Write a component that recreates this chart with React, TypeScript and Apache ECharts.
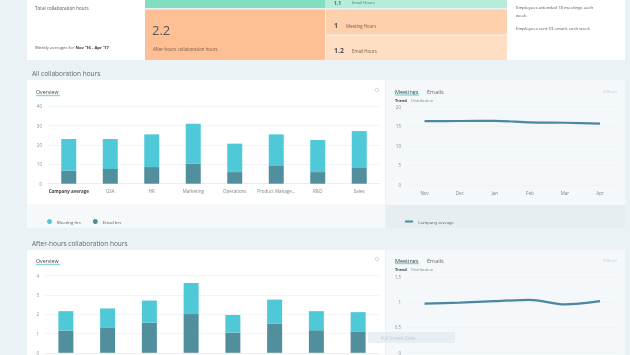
import React, { useEffect, useRef } from "react";
import * as echarts from "echarts";

const departments = ["Company average", "GSA", "HR", "Marketing", "Operations", "Product Manage...", "R&D", "Sales"];
const allMeetingHrs = [16.4, 15.5, 16.9, 20.7, 14.7, 16.0, 16.6, 19.1];
const allEmailHrs = [6.7, 7.6, 8.6, 10.3, 6.0, 9.5, 6.0, 8.1];
const afterMeetingHrs = [1.01, 1.01, 1.15, 1.61, 0.91, 1.25, 0.99, 1.0];
const afterEmailHrs = [1.15, 1.29, 1.56, 2.01, 1.05, 1.51, 1.17, 1.11];
const months = ["Nov", "Dec", "Jan", "Feb", "Mar", "Apr"];
const allMeetingTrend = [16.3, 16.35, 16.4, 16.0, 15.9, 15.7];
const afterMeetingTrend = [0.97, 0.99, 1.02, 1.046, 0.955, 1.02];

const FONT = "Open Sans";
const LIGHT = "#4fc8d7";
const DARK = "#528f9c";
const LINE = "#4b87a0";

function txt(x: number, y: number, text: string, size: number, fill: string, extra: any = {}) {
  return {
    type: "text",
    x,
    y,
    silent: true,
    z: 10,
    style: { text, fontSize: size, fontFamily: FONT, fill, verticalAlign: "middle", ...extra },
  };
}
function rect(x: number, y: number, w: number, h: number, fill: string, z = -10) {
  return { type: "rect", shape: { x, y, width: w, height: h }, style: { fill }, silent: true, z };
}

export default function App() {
  const ref = useRef<HTMLDivElement>(null);
  useEffect(() => {
    if (!ref.current) return;
    const chart = echarts.init(ref.current, undefined, { renderer: "svg" });

    const catData = departments.map((d, i) =>
      i === 0 ? { value: d, textStyle: { color: "#444", fontWeight: "bold" } } : d
    );

    const yAxisCommon = {
      type: "value",
      axisLine: { show: false },
      axisTick: { show: false },
      axisLabel: { fontSize: 4.5, color: "#8a9299", fontFamily: FONT, margin: 6 },
      splitLine: { lineStyle: { color: "#eef2f5", width: 0.8 } },
    };
    const xAxisCommon = {
      type: "category",
      axisTick: { show: false },
      axisLine: { lineStyle: { color: "#e6ecf0", width: 0.8 } },
      axisLabel: { fontSize: 4.5, color: "#7d868d", fontFamily: FONT, margin: 5, interval: 0 },
    };

    const graphic: any[] = [
      // page background
      rect(0, 0, 630, 355, "#ebf2f6", -20),
      // top card
      rect(27, 0, 118, 60, "#ffffff"),
      rect(145, 0, 180, 8, "#80dfc0"),
      rect(325, 0, 182, 8, "#b5edd9"),
      rect(145, 9.5, 180, 50.5, "#ffbf95"),
      rect(326, 9.5, 181, 25, "#ffd0ac"),
      rect(326, 35.5, 181, 24.5, "#ffdfc3"),
      rect(507, 0, 118, 60, "#ffffff"),
      txt(35, 7.5, "Total collaboration hours", 4.6, "#555"),
      txt(35, 47.5, "Weekly averages for", 4.2, "#555"),
      txt(75.5, 47.5, "Nov '16 - Apr '17", 4.2, "#333", { fontWeight: "bold" }),
      txt(152, 30, "2.2", 13, "#555"),
      txt(153, 48.5, "After-hours collaboration hours", 4.4, "#7a5a45"),
      txt(334, 25, "1", 7, "#555", { fontWeight: "bold" }),
      txt(346, 25.5, "Meeting Hours", 4.4, "#7a5a45"),
      txt(334, 50, "1.2", 7, "#555", { fontWeight: "bold" }),
      txt(352, 50.5, "Email Hours", 4.4, "#7a5a45"),
      txt(334, 2.6, "1.1", 5, "#4d6a60", { fontWeight: "bold" }),
      txt(352, 2.6, "Email Hours", 4, "#4a7a6a"),
      txt(516, 6.5, "Employees attended 18 meetings each", 4.3, "#555"),
      txt(516, 14.5, "week", 4.3, "#555"),
      txt(516, 28, "Employees sent 53 emails each week", 4.3, "#555"),

      // section 1
      txt(32, 73, "All collaboration hours", 6.5, "#666"),
      rect(27, 80, 358, 124, "#ffffff"),
      rect(27, 204, 358, 24, "#f6f9fa"),
      rect(386, 80, 239, 125, "#f4f8fa"),
      rect(386, 205, 239, 23, "#e6eef2"),
      txt(36, 92, "Overview", 5.2, "#444"),
      { type: "line", shape: { x1: 36, y1: 95.5, x2: 60, y2: 95.5 }, style: { stroke: "#8fd6df", lineWidth: 1.4 }, z: 10, silent: true },
      { type: "circle", shape: { cx: 377, cy: 90, r: 1.8 }, style: { fill: "none", stroke: "#c4cbd0", lineWidth: 0.8 }, z: 10, silent: true },
      txt(395, 92, "Meetings", 5.5, "#444"),
      { type: "line", shape: { x1: 395, y1: 95, x2: 419, y2: 95 }, style: { stroke: "#8fd6df", lineWidth: 1.4 }, z: 10, silent: true },
      txt(427, 92, "Emails", 5.5, "#666"),
      txt(395, 100.5, "Trend", 4, "#333", { fontWeight: "bold" }),
      txt(411, 100.5, "Distribution", 4, "#888"),
      txt(603, 91, "⟲ Reset", 3.8, "#c5ced4"),

      // section 2
      txt(32, 243, "After-hours collaboration hours", 6.5, "#666"),
      rect(27, 250, 358, 105, "#ffffff"),
      rect(386, 250, 239, 105, "#f4f8fa"),
      txt(36, 261, "Overview", 5.2, "#444"),
      { type: "line", shape: { x1: 36, y1: 264.5, x2: 60, y2: 264.5 }, style: { stroke: "#8fd6df", lineWidth: 1.4 }, z: 10, silent: true },
      { type: "circle", shape: { cx: 377, cy: 259, r: 1.8 }, style: { fill: "none", stroke: "#c4cbd0", lineWidth: 0.8 }, z: 10, silent: true },
      txt(395, 260.5, "Meetings", 5.5, "#444"),
      { type: "line", shape: { x1: 395, y1: 263.5, x2: 419, y2: 263.5 }, style: { stroke: "#8fd6df", lineWidth: 1.4 }, z: 10, silent: true },
      txt(427, 260.5, "Emails", 5.5, "#666"),
      txt(395, 269.5, "Trend", 4, "#333", { fontWeight: "bold" }),
      txt(411, 269.5, "Distribution", 4, "#888"),
      txt(603, 260, "⟲ Reset", 3.8, "#c5ced4"),

      // tooltip overlay
      { type: "rect", shape: { x: 368, y: 332, width: 87, height: 11 }, style: { fill: "rgba(225,234,240,0.75)" }, z: 100, silent: true },
      { type: "text", x: 381, y: 337.5, z: 101, silent: true, style: { text: "Full Screen Slide", fontSize: 4.5, fontFamily: FONT, fill: "#c0cbd3", verticalAlign: "middle" } },
    ];

    chart.setOption({
      animation: false,
      graphic,
      legend: [
        {
          data: ["Meeting hrs", "Email hrs"],
          left: 42,
          top: 214,
          icon: "circle",
          itemWidth: 5,
          itemHeight: 5,
          itemGap: 12,
          textStyle: { fontSize: 4.3, color: "#555", fontFamily: FONT },
        },
        {
          data: ["Company average"],
          left: 400,
          top: 214.5,
          icon: "rect",
          itemWidth: 8,
          itemHeight: 2,
          textStyle: { fontSize: 4.3, color: "#555", fontFamily: FONT },
        },
      ],
      grid: [
        { left: 48, right: 250, top: 106.3, bottom: 171.3, outerBoundsMode: "none", containLabel: false },
        { left: 407, right: 12.4, top: 106.7, bottom: 170, outerBoundsMode: "none", containLabel: false },
        { left: 45, right: 251, top: 275.7, bottom: 2.2, outerBoundsMode: "none", containLabel: false },
        { left: 407, right: 12.4, top: 277, bottom: 2.5, outerBoundsMode: "none", containLabel: false },
      ],
      xAxis: [
        { ...xAxisCommon, gridIndex: 0, data: catData },
        { ...xAxisCommon, gridIndex: 1, data: months, axisLine: { show: false } },
        { ...xAxisCommon, gridIndex: 2, data: catData, axisLabel: { show: false } },
        { ...xAxisCommon, gridIndex: 3, data: months, axisLine: { show: false }, axisLabel: { show: false } },
      ],
      yAxis: [
        { ...yAxisCommon, gridIndex: 0, min: 0, max: 40, interval: 10 },
        { ...yAxisCommon, gridIndex: 1, min: 0, max: 20, interval: 5 },
        { ...yAxisCommon, gridIndex: 2, min: 0, max: 4, interval: 1 },
        { ...yAxisCommon, gridIndex: 3, min: 0, max: 1.5, interval: 0.5 },
      ],
      series: [
        { name: "Email hrs", type: "bar", xAxisIndex: 0, yAxisIndex: 0, stack: "a", barWidth: 15, data: allEmailHrs, itemStyle: { color: DARK } },
        { name: "Meeting hrs", type: "bar", xAxisIndex: 0, yAxisIndex: 0, stack: "a", barWidth: 15, data: allMeetingHrs, itemStyle: { color: LIGHT } },
        { name: "Company average", type: "line", xAxisIndex: 1, yAxisIndex: 1, data: allMeetingTrend, smooth: 0.3, showSymbol: false, lineStyle: { color: LINE, width: 2.2 }, itemStyle: { color: LINE } },
        { name: "Email hrs", type: "bar", xAxisIndex: 2, yAxisIndex: 2, stack: "b", barWidth: 15, data: afterEmailHrs, itemStyle: { color: DARK } },
        { name: "Meeting hrs", type: "bar", xAxisIndex: 2, yAxisIndex: 2, stack: "b", barWidth: 15, data: afterMeetingHrs, itemStyle: { color: LIGHT } },
        { name: "Company average", type: "line", xAxisIndex: 3, yAxisIndex: 3, data: afterMeetingTrend, smooth: 0.3, showSymbol: false, lineStyle: { color: LINE, width: 2.2 }, itemStyle: { color: LINE } },
      ],
    });
    return () => chart.dispose();
  }, []);
  return <div ref={ref} style={{ position: "fixed", left: 0, top: 0, width: 630, height: 355 }} />;
}
